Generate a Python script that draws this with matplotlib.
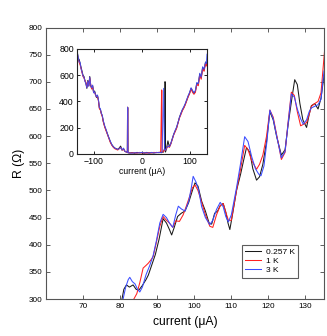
import matplotlib
matplotlib.use("Agg")
import matplotlib.pyplot as plt

# ---- main panel data ----
labels = ["0.257 K", "1 K", "3 K"]
colors = ["#1a1a1a", "#ff2020", "#3a4cff"]

black_x = [80.5, 81, 81.7, 82.5, 83.5, 84.3, 85, 86, 87, 87.6,
           88.5, 89.5, 90.5, 91.6, 92.5, 93.3, 93.9, 94.6, 95.5, 96.5,
           97.5, 98.5, 99.5, 100.2, 101, 102, 103, 104, 104.7, 105.5,
           106.3, 107, 107.8, 108.5, 109.1, 109.6, 110.3, 111.4, 112.5, 113.3,
           114.1, 115, 115.8, 116.8, 117.6, 118.5, 119.5, 120.4, 121.3, 122.2,
           123.5, 124.5, 125.3, 126.3, 127.1, 127.8, 128.5, 129.3, 130.3, 131,
           131.6, 132.5, 133.4, 134.2, 135]
black_y = [300, 318, 326, 322, 326, 318, 316, 325, 336, 344,
           362, 382, 410, 448, 440, 428, 418, 432, 452, 458,
           462, 478, 500, 514, 508, 480, 462, 440, 438, 458,
           462, 472, 476, 460, 440, 428, 455, 500, 530, 555,
           579, 570, 540, 519, 525, 548, 590, 645, 630, 600,
           565, 575, 620, 668, 704, 695, 660, 630, 616, 640,
           656, 660, 650, 670, 712]

red_x = [83.7, 84.5, 85.3, 86.2, 87, 87.6, 88.3, 88.9, 89.8, 90.7,
         91.6, 92.5, 93.3, 94.2, 95, 96, 97, 97.8, 98.7, 99.5,
         100.2, 101, 102, 103, 104.2, 105, 106, 107, 107.8, 108.5,
         109.2, 110, 111.4, 112.5, 113.6, 114.5, 115.5, 116.8, 117.6, 118.5,
         119.5, 120.4, 121.3, 122.3, 123.5, 124.5, 125.3, 126.2, 127, 127.8,
         128.7, 129.5, 130.3, 131, 131.6, 132.5, 133.4, 134.2, 135.2]
red_y = [300, 310, 330, 357, 362, 366, 372, 378, 405, 434,
         452, 445, 440, 432, 444, 443, 455, 470, 488, 505,
         510, 500, 478, 455, 434, 432, 455, 472, 476, 460,
         445, 445, 500, 540, 583, 575, 555, 539, 548, 565,
         600, 648, 635, 600, 557, 570, 625, 681, 675, 645,
         619, 622, 625, 640, 655, 660, 664, 680, 761]

blue_x = [80.8, 81.5, 82.2, 82.6, 83.3, 84, 84.7, 85.3, 86, 87,
          88, 88.9, 89.8, 90.7, 91.6, 92.5, 93.3, 94.2, 95, 95.7,
          96.5, 97.5, 98.5, 99.2, 99.7, 100.5, 101.2, 102, 103, 104.2,
          105, 106, 107, 107.8, 108.5, 109.2, 110, 111.4, 112.5, 113.6,
          114.5, 115.5, 116.5, 117.4, 118, 118.8, 119.6, 120.4, 121.3, 122.3,
          123.5, 124.5, 125.3, 126.2, 127, 127.8, 128.7, 129.4, 130.3, 131,
          131.6, 132.5, 133.4, 134.2, 135]
blue_y = [300, 322, 336, 340, 332, 328, 318, 313, 322, 345,
          362, 380, 408, 440, 456, 450, 440, 432, 455, 471,
          466, 462, 480, 505, 526, 515, 500, 470, 450, 437,
          445, 465, 478, 470, 452, 442, 455, 505, 550, 599,
          590, 562, 540, 530, 527, 545, 590, 648, 632, 598,
          560, 572, 622, 678, 672, 650, 632, 622, 630, 645,
          652, 655, 658, 668, 720]

# ---- inset data (full current sweep) ----
inset_x = [-135, -133.5, -132, -130, -128, -126, -124, -122, -120, -118,
           -116, -114, -112, -110, -108, -106, -104, -102, -100, -98,
           -96, -94, -92, -90, -88, -86, -84, -82, -80, -77,
           -74, -71, -68, -65, -62, -59, -56, -53, -50, -47,
           -44, -41, -38, -35, -32, -30, -29.6, -29.2, -28.8, -25,
           -20, -15, -10, -5, 0, 5, 10, 15, 20, 25,
           30, 35, 39, 41, 41.5, 42, 45, 47, 48, 48.5,
           49, 51, 54, 57, 60, 63, 66, 69, 72, 75,
           78, 81, 84, 87, 90, 93, 96, 99, 102, 105,
           108, 111, 114, 117, 120, 123, 126, 129, 132, 133.5,
           135]
inset_black = [700, 767, 730, 720, 690, 660, 630, 600, 590, 560,
               540, 500, 560, 520, 590, 520, 500, 520, 470, 480,
               455, 430, 445, 410, 350, 340, 310, 290, 250, 210,
               180, 150, 120, 90, 70, 55, 45, 40, 35, 45,
               60, 30, 40, 20, 15, 15, 356, 350, 10, 8,
               10, 6, 12, 8, 10, 6, 12, 8, 10, 8,
               12, 10, 12, 10, 15, 15, 15, 40, 551, 540,
               15, 40, 100, 55, 80, 115, 150, 175, 200, 240,
               280, 310, 335, 355, 380, 410, 440, 465, 500, 480,
               460, 480, 540, 530, 610, 580, 660, 640, 700, 680,
               700]
inset_red = [720, 760, 720, 700, 680, 650, 620, 590, 580, 560,
             545, 510, 550, 520, 580, 530, 495, 515, 470, 470,
             450, 435, 440, 405, 345, 335, 305, 285, 245, 205,
             175, 145, 115, 85, 65, 50, 40, 35, 30, 40,
             50, 30, 35, 20, 15, 12, 356, 350, 10, 8,
             8, 10, 6, 12, 8, 10, 6, 10, 8, 12,
             10, 12, 15, 488, 480, 15, 20, 35, 30, 35,
             30, 40, 60, 50, 75, 110, 145, 170, 195, 235,
             275, 300, 330, 350, 375, 405, 435, 460, 495, 470,
             455, 470, 530, 520, 600, 570, 650, 630, 690, 670,
             690]
inset_blue = [710, 770, 740, 700, 700, 650, 625, 595, 585, 555,
              535, 505, 555, 515, 585, 525, 505, 525, 465, 475,
              450, 435, 450, 415, 355, 345, 310, 295, 255, 215,
              185, 150, 120, 95, 70, 55, 45, 40, 35, 40,
              50, 30, 45, 20, 15, 15, 356, 350, 10, 8,
              6, 10, 8, 10, 12, 8, 10, 6, 12, 8,
              10, 12, 10, 12, 15, 15, 500, 30, 35, 30,
              30, 45, 60, 55, 80, 115, 150, 180, 205, 240,
              280, 310, 340, 360, 385, 415, 445, 470, 505, 485,
              465, 485, 545, 535, 615, 585, 665, 645, 700, 690,
              760]

main_xticks = [70, 80, 90, 100, 110, 120, 130]
main_yticks = [300, 350, 400, 450, 500, 550, 600, 650, 700, 750, 800]
inset_xticks = [-100, 0, 100]
inset_yticks = [0, 200, 400, 600, 800]

plt.rcParams['font.family'] = ['Liberation Sans', 'DejaVu Sans']
fig = plt.figure(figsize=(3.27, 3.36), dpi=100)
ax = fig.add_axes([0.1407, 0.110, 0.8501, 0.808])

for xs, ys, c, lab in [(black_x, black_y, colors[0], labels[0]),
                       (red_x, red_y, colors[1], labels[1]),
                       (blue_x, blue_y, colors[2], labels[2])]:
    ax.plot(xs, ys, color=c, lw=0.75, label=lab)

ax.set_xlim(60, 135)
ax.set_ylim(300, 800)
ax.set_xticks(main_xticks)
ax.set_yticks(main_yticks)
ax.tick_params(direction='in', top=True, right=True, labelsize=5.9,
               length=3, width=0.6, color='#444444', pad=2.5)
for s in ax.spines.values():
    s.set_color('#555555')
    s.set_linewidth(0.8)
ax.set_xlabel("current (μA)", fontsize=8.7, labelpad=4.5)
ax.set_ylabel("R (Ω)", fontsize=8.7, labelpad=2.5)

leg = ax.legend(loc='upper left', bbox_to_anchor=(0.705, 0.199), fontsize=6,
                frameon=True, fancybox=False, handlelength=1.9,
                borderpad=0.4, labelspacing=0.15, handletextpad=0.6,
                borderaxespad=0)
leg.get_frame().set_edgecolor('#333333')
leg.get_frame().set_linewidth(0.8)

# inset
ins = fig.add_axes([0.2346, 0.5417, 0.3984, 0.3125])
ins.plot(inset_x, inset_black, color=colors[0], lw=0.75)
ins.plot(inset_x, inset_red, color=colors[1], lw=0.75)
ins.plot(inset_x, inset_blue, color=colors[2], lw=0.75, alpha=0.85)
ins.set_xlim(-135, 135)
ins.set_ylim(0, 800)
ins.set_xticks(inset_xticks)
ins.set_yticks(inset_yticks)
ins.tick_params(direction='in', top=True, right=True, labelsize=6.3,
                length=2.5, width=0.6, pad=2)
for s in ins.spines.values():
    s.set_color('#222222')
    s.set_linewidth(0.8)
ins.set_xlabel("current (μA)", fontsize=6.2, labelpad=1)

fig.savefig("out.png", dpi=100)
